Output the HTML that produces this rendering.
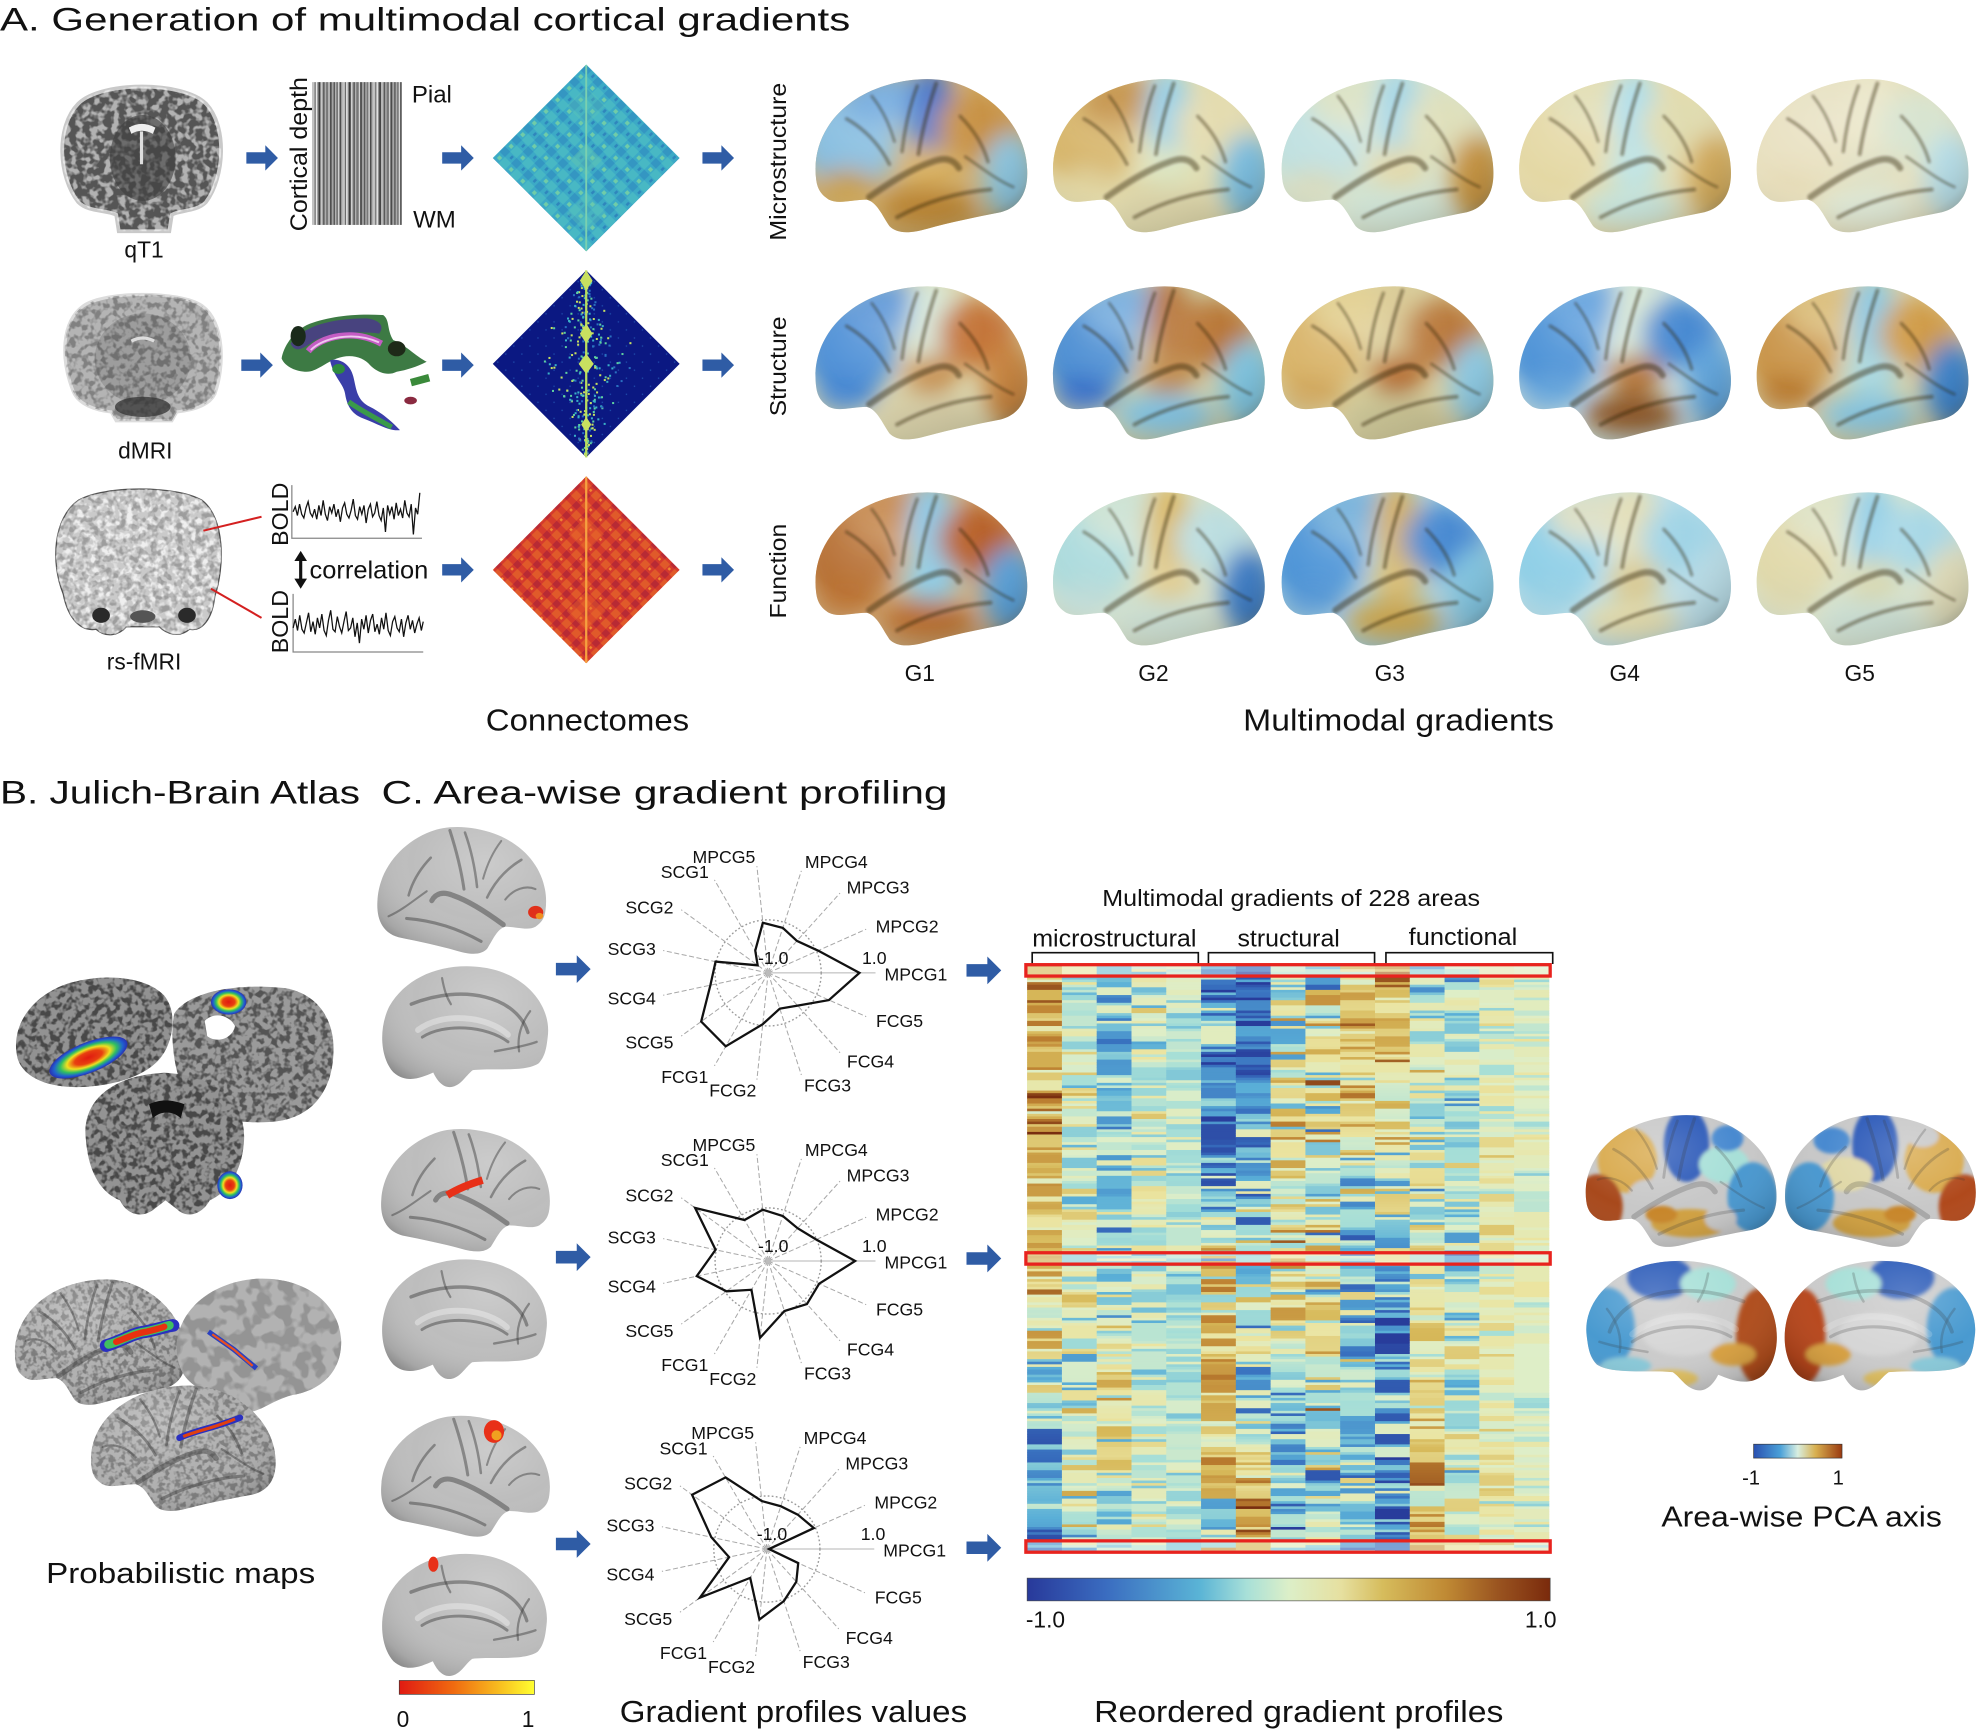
<!DOCTYPE html>
<html><head><meta charset="utf-8"><style>
html,body{margin:0;padding:0;background:#fff;}
svg{display:block;}
text{font-family:"Liberation Sans",Arial,sans-serif;fill:#111;}
.rl text{font-size:14px;text-anchor:middle;fill:#111;}
</style></head><body>
<svg xmlns="http://www.w3.org/2000/svg" xmlns:xlink="http://www.w3.org/1999/xlink" width="1981" height="1731" viewBox="0 0 1568 1370" preserveAspectRatio="none">
<defs>
<clipPath id="latC"><path d="M4,80 C0,50 18,20 55,7 C75,0 100,-2 118,5 C148,16 170,42 171,72 C172,90 165,102 150,106 C130,110 110,114 92,119 C78,123 68,123 62,117 C56,108 52,98 44,96 C32,96 22,100 14,96 C8,92 5,88 4,80 Z"/></clipPath>
<clipPath id="medC"><path d="M4,62 C0,35 25,8 62,3 C98,-2 132,10 148,36 C158,55 156,80 144,92 C132,102 118,96 108,92 C104,100 98,106 90,104 C82,102 78,94 72,90 C55,88 24,92 12,84 C6,78 5,70 4,62 Z"/></clipPath>
<filter id="b9" x="-20%" y="-20%" width="140%" height="140%"><feGaussianBlur stdDeviation="9"/></filter>
<filter id="b2" x="-10%" y="-10%" width="120%" height="120%"><feGaussianBlur stdDeviation="1.6"/></filter>
<filter id="b1" x="-10%" y="-10%" width="120%" height="120%"><feGaussianBlur stdDeviation="1.1"/></filter>
<filter id="txd" x="0" y="0" width="100%" height="100%"><feTurbulence type="fractalNoise" baseFrequency=".2" numOctaves="2" seed="5"/><feColorMatrix type="matrix" values="0 0 0 0 0 0 0 0 0 0 0 0 0 0 0 0 0 0 -5 2.8"/><feComposite in2="SourceAlpha" operator="in"/></filter>
<filter id="txw" x="0" y="0" width="100%" height="100%"><feTurbulence type="fractalNoise" baseFrequency=".18" numOctaves="2" seed="9"/><feColorMatrix type="matrix" values="0 0 0 0 1 0 0 0 0 1 0 0 0 0 1 0 0 0 -5 2.8"/><feComposite in2="SourceAlpha" operator="in"/></filter>
<filter id="txi" x="0" y="0" width="100%" height="100%"><feTurbulence type="fractalNoise" baseFrequency=".09" numOctaves="2" seed="3"/><feColorMatrix type="matrix" values="0 0 0 0 .3 0 0 0 0 .3 0 0 0 0 .3 0 0 0 -9 4.9"/><feComposite in2="SourceAlpha" operator="in"/></filter>
<radialGradient id="shd" cx=".38" cy=".3" r=".8"><stop offset="0" stop-color="#fff" stop-opacity=".22"/><stop offset=".5" stop-color="#fff" stop-opacity="0"/><stop offset=".85" stop-color="#000" stop-opacity=".12"/><stop offset="1" stop-color="#000" stop-opacity=".35"/></radialGradient>
<linearGradient id="hmg" x1="0" x2="1" y1="0" y2="0"><stop offset="0" stop-color="#28399a"/><stop offset=".15" stop-color="#3a6cc0"/><stop offset=".33" stop-color="#5ab4d6"/><stop offset=".42" stop-color="#a8e0d8"/><stop offset=".5" stop-color="#dcefc8"/><stop offset=".6" stop-color="#e6e0a0"/><stop offset=".68" stop-color="#d6bc5c"/><stop offset=".8" stop-color="#c08a34"/><stop offset=".9" stop-color="#9a5420"/><stop offset="1" stop-color="#7a2a0c"/></linearGradient>
<linearGradient id="pcag" x1="0" x2="1" y1="0" y2="0"><stop offset="0" stop-color="#2a50b0"/><stop offset=".3" stop-color="#4aa0d8"/><stop offset=".5" stop-color="#d8eee0"/><stop offset=".7" stop-color="#d8b050"/><stop offset="1" stop-color="#9a3a10"/></linearGradient>
<linearGradient id="ryg" x1="0" x2="1" y1="0" y2="0"><stop offset="0" stop-color="#e01a12"/><stop offset=".4" stop-color="#f06a10"/><stop offset=".75" stop-color="#f8c020"/><stop offset="1" stop-color="#ffff30"/></linearGradient>
<radialGradient id="rb"><stop offset="0" stop-color="#e01a10"/><stop offset=".35" stop-color="#e84010"/><stop offset=".55" stop-color="#f0e020"/><stop offset=".72" stop-color="#30c060"/><stop offset=".88" stop-color="#2060d0"/><stop offset="1" stop-color="#2a30b0"/></radialGradient>
<pattern id="bars" patternUnits="userSpaceOnUse" width="24" height="10">
<rect width="24" height="10" fill="#999"/><rect x="0" width="1.2" height="10" fill="#444"/><rect x="1.2" width="1" height="10" fill="#aaa"/><rect x="2.2" width="1.5" height="10" fill="#666"/><rect x="3.7" width="1" height="10" fill="#ddd"/><rect x="4.7" width="1.3" height="10" fill="#333"/><rect x="7" width="2" height="10" fill="#bbb"/><rect x="9" width="1" height="10" fill="#555"/><rect x="10" width="1.2" height="10" fill="#eee"/><rect x="11.2" width="1" height="10" fill="#777"/><rect x="12.2" width="1.5" height="10" fill="#222"/><rect x="13.7" width="1" height="10" fill="#ccc"/><rect x="15.7" width="1.3" height="10" fill="#444"/><rect x="17" width="1" height="10" fill="#aaa"/><rect x="18" width="2" height="10" fill="#666"/><rect x="20" width="1" height="10" fill="#ddd"/><rect x="21" width="1.5" height="10" fill="#333"/>
</pattern>
<pattern id="pTeal" patternUnits="userSpaceOnUse" width="13" height="13"><rect width="13" height="13" fill="#3caac6"/><rect width="6" height="6" fill="#3496c2"/><rect x="6" y="6" width="7" height="7" fill="#48b8c4"/><rect x="2" y="8" width="3" height="3" fill="#70cca8"/><rect x="9" y="1" width="2" height="3" fill="#2f86bc"/></pattern>
<pattern id="pRed" patternUnits="userSpaceOnUse" width="11" height="11"><rect width="11" height="11" fill="#d43a2c"/><rect width="5" height="5" fill="#b82a34"/><rect x="5" y="5" width="6" height="6" fill="#e05a2a"/><rect x="1" y="7" width="2" height="2" fill="#f08a30"/></pattern>
<pattern id="pNavy" patternUnits="userSpaceOnUse" width="9" height="9"><rect width="9" height="9" fill="#0b1882"/><rect x="3" y="3" width="1" height="1" fill="#2050b0"/></pattern>
<path id="arr" d="M0,-4.5H15V-10L25,0L15,10V4.5H0Z" fill="#2f5ca5"/>
<g id="sul" fill="none" stroke="#2a1a08" stroke-opacity=".4" stroke-linecap="round">
<path d="M46,94 C60,84 78,72 96,66 C106,62 113,64 117,71" stroke-width="5"/>
<path d="M99,4 C93,22 88,40 85,60" stroke-width="3"/>
<path d="M84,6 C78,22 74,40 72,58" stroke-width="2.5"/>
<path d="M68,110 C90,98 116,90 142,88" stroke-width="3"/>
<path d="M28,32 C42,40 54,52 62,68" stroke-width="2.5"/>
<path d="M48,14 C56,24 62,36 66,50" stroke-width="2"/>
<path d="M118,30 C128,40 136,52 140,66" stroke-width="2.5"/>
<path d="M122,62 C134,70 146,80 160,86" stroke-width="2"/>
</g>
<g id="sulG" fill="none" stroke="#3a3a3a" stroke-opacity=".45" stroke-linecap="round">
<path d="M46,94 C60,84 78,72 96,66 C106,62 113,64 117,71" stroke-width="5"/>
<path d="M99,4 C93,22 88,40 85,60" stroke-width="3"/>
<path d="M84,6 C78,22 74,40 72,58" stroke-width="2.5"/>
<path d="M68,110 C90,98 116,90 142,88" stroke-width="3"/>
<path d="M28,32 C42,40 54,52 62,68" stroke-width="2.5"/>
<path d="M48,14 C56,24 62,36 66,50" stroke-width="2"/>
<path d="M118,30 C128,40 136,52 140,66" stroke-width="2.5"/>
<path d="M122,62 C134,70 146,80 160,86" stroke-width="2"/>
<path d="M14,60 C24,56 36,60 44,70" stroke-width="2"/>
</g>
<g id="msul" fill="none" stroke="#3a3a3a" stroke-opacity=".45" stroke-linecap="round">
<path d="M22,58 C32,28 80,16 128,34" stroke-width="3"/>
<path d="M40,60 C58,44 100,40 122,56" stroke-width="5" stroke="#fff" stroke-opacity=".35"/>
<path d="M40,66 C60,52 98,50 118,62" stroke-width="2.5"/>
<path d="M20,40 C28,50 32,62 30,74" stroke-width="2"/>
<path d="M14,66 C26,70 40,72 52,74" stroke-width="2"/>
<path d="M100,12 C98,22 96,28 92,34" stroke-width="2"/>
</g>
<g id="ax" stroke="#a8a8a8" stroke-width=".8" fill="none">
<line x1="0" y1="0" x2="85" y2="0" stroke="#b5b5b5"/>
<g stroke-dasharray="4,2">
<line x1="0" y1="0" x2="77.6" y2="-34.6"/><line x1="0" y1="0" x2="56.9" y2="-63.2"/><line x1="0" y1="0" x2="26.3" y2="-80.8"/><line x1="0" y1="0" x2="-8.9" y2="-84.5"/><line x1="0" y1="0" x2="-42.5" y2="-73.6"/><line x1="0" y1="0" x2="-68.8" y2="-50"/><line x1="0" y1="0" x2="-83.1" y2="-17.7"/><line x1="0" y1="0" x2="-83.1" y2="17.7"/><line x1="0" y1="0" x2="-68.8" y2="50"/><line x1="0" y1="0" x2="-42.5" y2="73.6"/><line x1="0" y1="0" x2="-8.9" y2="84.5"/><line x1="0" y1="0" x2="26.3" y2="80.8"/><line x1="0" y1="0" x2="56.9" y2="63.2"/><line x1="0" y1="0" x2="77.6" y2="34.6"/>
</g>
<circle r="42" stroke="#9a9a9a" stroke-dasharray="1.4,1.8" stroke-width="1.1"/>
<circle r="2" fill="#bbb" stroke="none"/>
</g>
</defs>
<rect width="1568" height="1370" fill="#fff"/>

<!-- ===== Section A ===== -->
<text x="0" y="24" font-size="26" textLength="673" lengthAdjust="spacingAndGlyphs">A. Generation of multimodal cortical gradients</text>

<!-- qT1 -->
<path d="M62,160 C46,140 44,100 62,82 C80,64 145,64 163,82 C180,100 178,140 163,160 C155,168 142,166 136,170 L134,183 L94,183 L92,170 C84,166 70,168 62,160Z" fill="#555" stroke="#c9c9c9" stroke-width="3"/>
<path d="M62,160 C46,140 44,100 62,82 C80,64 145,64 163,82 C180,100 178,140 163,160 C155,168 142,166 136,170 L134,183 L94,183 L92,170 C84,166 70,168 62,160Z" filter="url(#txw)" opacity=".55"/>
<ellipse cx="113" cy="125" rx="26" ry="34" fill="#3e3e3e" opacity=".6"/>
<path d="M102,101 Q112,95 123,101 L121,106 Q112,101 104,106Z" fill="#eee"/>
<path d="M112,104 L112,130" stroke="#ddd" stroke-width="2.5"/>
<text x="114" y="204" font-size="18" text-anchor="middle">qT1</text>
<use href="#arr" x="195" y="125"/>
<text transform="translate(243,122) rotate(-90)" font-size="19" text-anchor="middle" textLength="122" lengthAdjust="spacingAndGlyphs">Cortical depth</text>
<rect x="247" y="65" width="71" height="113" fill="url(#bars)"/>
<rect x="247" y="65" width="71" height="113" fill="#fff" opacity=".12"/>
<text x="326" y="81" font-size="19">Pial</text>
<text x="327" y="180" font-size="19">WM</text>
<use href="#arr" x="350" y="125"/>
<g transform="translate(464,125) rotate(45)">
<rect x="-52.3" y="-52.3" width="104.6" height="104.6" fill="url(#pTeal)"/>
<rect x="-40" y="-40" width="22" height="22" fill="#5cc2b8" opacity=".35"/>
<rect x="-8" y="-8" width="18" height="18" fill="#64c6b0" opacity=".4"/>
<rect x="20" y="20" width="22" height="22" fill="#5cc2b8" opacity=".35"/>
<line x1="-52" y1="-52" x2="52" y2="52" stroke="#7ad0b0" stroke-width="1.5"/>
</g>
<use href="#arr" x="556" y="125"/>

<!-- dMRI -->
<path d="M58,310 C48,285 48,255 66,242 C84,230 142,230 160,242 C178,255 178,290 170,312 C165,322 150,325 140,326 L136,333 L92,333 L88,326 C76,325 62,320 58,310Z" fill="#b4b4b4" stroke="#dcdcdc" stroke-width="2.5"/>
<ellipse cx="113" cy="284" rx="38" ry="36" fill="#858585" opacity=".5"/>
<path d="M58,310 C48,285 48,255 66,242 C84,230 142,230 160,242 C178,255 178,290 170,312 C165,322 150,325 140,326 L136,333 L92,333 L88,326 C76,325 62,320 58,310Z" filter="url(#txd)" opacity=".28"/>
<ellipse cx="113" cy="322" rx="22" ry="8" fill="#333" opacity=".75"/>
<path d="M104,270 Q113,265 122,270" stroke="#ddd" stroke-width="2.5" fill="none"/>
<text x="115" y="363" font-size="18" text-anchor="middle">dMRI</text>
<use href="#arr" x="191" y="289"/>
<!-- tractography -->
<path d="M222.9,283.7 C224.3,274.4 232.2,262.6 242.7,257.3 C258.6,250.7 279.7,248 303.4,249.4 C308.7,253.3 306.1,261.2 311.3,269.2 C319.2,271.8 329.8,282.4 337.7,286.3 C329.8,290.3 321.9,292.9 314,294.2 C306.1,298.2 298.1,294.2 292.9,289 C287.6,282.4 277,279.7 266.5,283.7 C258.6,286.3 250.6,294.2 242.7,294.2 C234.8,294.2 225.6,290.3 222.9,283.7Z" fill="#3d7a44"/>
<path d="M230,272 C240,258 262,252 290,252 C300,253 305,258 300,264 C285,262 262,263 248,270 C240,276 234,280 230,272Z" fill="#4a3a8a" opacity=".85"/>
<path d="M244,278 C254,266 280,260 302,272" stroke="#c45cc4" stroke-width="5" fill="none"/>
<path d="M246,277 C256,267 280,262 300,271" stroke="#f0c8f0" stroke-width="1.5" fill="none"/>
<ellipse cx="236" cy="266" rx="6" ry="8" fill="#1a2a1a"/>
<ellipse cx="314" cy="276" rx="7" ry="6" fill="#1e2a18"/>
<path d="M261.2,285 C269.1,283.7 277,287.6 279.7,298.2 C282.3,308.8 282.3,316.7 292.9,322 C303.4,327.2 311.3,335.1 316.6,340.4 C308.7,341.7 298.1,335.1 287.6,331.2 C277,327.2 274.4,319.3 273.1,311.4 C271.7,303.5 263.8,298.2 261.2,285Z" fill="#3a3ea8"/>
<path d="M276,318 C284,324 296,330 310,338" stroke="#3a9a4a" stroke-width="4" fill="none"/>
<ellipse cx="268" cy="292" rx="5" ry="4" fill="#2e8a3e"/>
<rect x="325" y="298" width="15" height="6" fill="#3a8a3a" transform="rotate(-15 332 301)"/>
<ellipse cx="325" cy="317" rx="5" ry="3" fill="#8a2a40"/>
<use href="#arr" x="350" y="289"/>
<g transform="translate(464,288) rotate(45)">
<rect x="-52.3" y="-52.3" width="104.6" height="104.6" fill="url(#pNavy)"/>
</g>
<g id="sp2"></g>
<line x1="464" y1="214" x2="464" y2="362" stroke="#b8dc60" stroke-width="1.8"/>
<path d="M464,214 L469,222 L464,230 L459,222Z M464,256 L469,264 L464,272 L459,264Z M464,280 L470,288 L464,296 L458,288Z M464,330 L468,336 L464,342 L460,336Z" fill="#c8e060"/>
<use href="#arr" x="556" y="289"/>

<!-- rs-fMRI -->
<path d="M50,470 C40,445 42,410 62,396 C82,384 140,384 160,396 C178,410 178,448 170,472 C168,490 160,500 150,498 C142,505 132,502 126,496 L100,496 C94,503 84,505 76,498 C64,500 54,490 50,470Z" fill="#cacaca" stroke="#555" stroke-width="1"/>
<path d="M50,470 C40,445 42,410 62,396 C82,384 140,384 160,396 C178,410 178,448 170,472 C168,490 160,500 150,498 C142,505 132,502 126,496 L100,496 C94,503 84,505 76,498 C64,500 54,490 50,470Z" filter="url(#txw)" opacity=".7"/>
<path d="M50,470 C40,445 42,410 62,396 C82,384 140,384 160,396 C178,410 178,448 170,472 C168,490 160,500 150,498 C142,505 132,502 126,496 L100,496 C94,503 84,505 76,498 C64,500 54,490 50,470Z" filter="url(#txd)" opacity=".22"/>
<ellipse cx="80" cy="487" rx="7" ry="6" fill="#2a2a2a"/>
<ellipse cx="148" cy="487" rx="7" ry="6" fill="#2a2a2a"/>
<ellipse cx="113" cy="488" rx="10" ry="5" fill="#555"/>
<line x1="161" y1="420" x2="207" y2="409" stroke="#d42020" stroke-width="1.6"/>
<line x1="167" y1="466" x2="207" y2="489" stroke="#d42020" stroke-width="1.6"/>
<text x="114" y="530" font-size="18" text-anchor="middle">rs-fMRI</text>
<text transform="translate(228,407) rotate(-90)" font-size="18" text-anchor="middle" textLength="50" lengthAdjust="spacingAndGlyphs">BOLD</text>
<text transform="translate(228,492) rotate(-90)" font-size="18" text-anchor="middle" textLength="50" lengthAdjust="spacingAndGlyphs">BOLD</text>
<path d="M231,384 V426 H334" stroke="#888" stroke-width="1" fill="none"/>
<path d="M232,470 V516 H335" stroke="#888" stroke-width="1" fill="none"/>
<polyline fill="none" stroke="#111" stroke-width="1" points="232,405 233.7,401 235.4,408 237.1,399 238.8,407 240.5,410 242.2,402 243.9,397 245.6,406 247.3,409 249,403 250.7,411 252.4,400 254.1,408 255.8,396 257.5,407 259.2,412 260.9,401 262.6,406 264.3,399 266,409 267.7,403 269.4,413 271.1,402 272.8,398 274.5,407 276.2,410 277.9,404 279.6,395 281.3,408 283,411 284.7,401 286.4,407 288.1,400 289.8,414 291.5,403 293.2,399 294.9,409 296.6,406 298.3,397 300,408 301.7,412 303.4,402 305.1,421 306.8,400 308.5,407 310.2,401 311.9,411 313.6,398 315.3,408 317,403 318.7,410 320.4,396 322.1,406 323.8,409 325.5,399 327.2,423 328.9,402 330.6,407 332.3,390"/>
<polyline fill="none" stroke="#111" stroke-width="1" points="232,497 233.75,490 235.5,499 237.25,487 239,498 240.75,501 242.5,493 244.25,485 246,500 247.75,492 249.5,502 251.25,489 253,497 254.75,486 256.5,499 258.25,503 260,491 261.75,483 263.5,498 265.25,500 267,488 268.75,496 270.5,501 272.25,492 274,484 275.75,499 277.5,497 279.25,489 281,504 282.75,493 284.5,509 286.25,490 288,498 289.75,487 291.5,501 293.25,491 295,486 296.75,500 298.5,494 300.25,502 302,489 303.75,498 305.5,485 307.25,499 309,503 310.75,492 312.5,488 314.25,497 316,500 317.75,490 319.5,504 321.25,493 323,487 324.75,498 326.5,491 328.25,501 330,494 331.75,489 333.5,499 335,492"/>
<line x1="238" y1="441" x2="238" y2="461" stroke="#111" stroke-width="2.5"/>
<path d="M233,444 L238,436 L243,444Z M233,458 L238,466 L243,458Z" fill="#111"/>
<text x="245" y="458" font-size="20" textLength="94" lengthAdjust="spacingAndGlyphs">correlation</text>
<use href="#arr" x="350" y="451"/>
<g transform="translate(464,451) rotate(45)">
<rect x="-52.3" y="-52.3" width="104.6" height="104.6" fill="url(#pRed)"/>
<rect x="-30" y="-30" width="20" height="20" fill="#e8642a" opacity=".4"/>
<rect x="12" y="12" width="22" height="22" fill="#e8642a" opacity=".4"/>
<line x1="-52" y1="-52" x2="52" y2="52" stroke="#f6a040" stroke-width="1.8"/>
</g>
<use href="#arr" x="556" y="451"/>
<text x="465" y="578" font-size="24" text-anchor="middle" textLength="161" lengthAdjust="spacingAndGlyphs">Connectomes</text>

<!-- row labels -->
<text transform="translate(622,128) rotate(-90)" font-size="18" text-anchor="middle" textLength="125" lengthAdjust="spacingAndGlyphs">Microstructure</text>
<text transform="translate(622,290) rotate(-90)" font-size="18" text-anchor="middle" textLength="79" lengthAdjust="spacingAndGlyphs">Structure</text>
<text transform="translate(622,452) rotate(-90)" font-size="18" text-anchor="middle" textLength="75" lengthAdjust="spacingAndGlyphs">Function</text>

<!-- gradient brains -->
<g transform="translate(642,62)"><g clip-path="url(#latC)"><rect x="-5" y="-5" width="182" height="132" fill="#d0b070"/><g filter="url(#b9)"><ellipse cx="30" cy="50" rx="38" ry="40" fill="#86bde0"/><ellipse cx="60" cy="18" rx="35" ry="22" fill="#6aa6dc"/><ellipse cx="95" cy="28" rx="18" ry="36" fill="#3b6cc6"/><ellipse cx="132" cy="38" rx="32" ry="28" fill="#c89244"/><ellipse cx="158" cy="78" rx="22" ry="34" fill="#8cc6e0"/><ellipse cx="92" cy="102" rx="38" ry="16" fill="#b9822e"/><ellipse cx="28" cy="86" rx="24" ry="14" fill="#c9a04e"/><ellipse cx="95" cy="70" rx="22" ry="16" fill="#d8b060"/></g><rect x="-5" y="-5" width="182" height="132" fill="url(#shd)"/><use href="#sul" filter="url(#b1)"/></g></g>
<g transform="translate(830,62)"><g clip-path="url(#latC)"><rect x="-5" y="-5" width="182" height="132" fill="#e2dcae"/><g filter="url(#b9)"><ellipse cx="30" cy="50" rx="38" ry="40" fill="#d6b468"/><ellipse cx="60" cy="18" rx="35" ry="22" fill="#c08a3a"/><ellipse cx="95" cy="28" rx="18" ry="36" fill="#8fcde6"/><ellipse cx="132" cy="38" rx="32" ry="28" fill="#e4dcb0"/><ellipse cx="158" cy="78" rx="22" ry="34" fill="#7cc0e2"/><ellipse cx="92" cy="102" rx="38" ry="16" fill="#d8d0a4"/><ellipse cx="28" cy="86" rx="24" ry="14" fill="#e0d4a0"/><ellipse cx="95" cy="70" rx="22" ry="16" fill="#dce4c0"/></g><rect x="-5" y="-5" width="182" height="132" fill="url(#shd)"/><use href="#sul" filter="url(#b1)"/></g></g>
<g transform="translate(1011,62)"><g clip-path="url(#latC)"><rect x="-5" y="-5" width="182" height="132" fill="#d6e2cc"/><g filter="url(#b9)"><ellipse cx="30" cy="50" rx="38" ry="40" fill="#bfe0e0"/><ellipse cx="60" cy="18" rx="35" ry="22" fill="#d8e0c0"/><ellipse cx="95" cy="28" rx="18" ry="36" fill="#9ed4e6"/><ellipse cx="132" cy="38" rx="32" ry="28" fill="#dfe0bc"/><ellipse cx="158" cy="78" rx="22" ry="34" fill="#c89440"/><ellipse cx="92" cy="102" rx="38" ry="16" fill="#cde2d4"/><ellipse cx="28" cy="86" rx="24" ry="14" fill="#d8dcc0"/><ellipse cx="95" cy="70" rx="22" ry="16" fill="#e2d8a8"/></g><rect x="-5" y="-5" width="182" height="132" fill="url(#shd)"/><use href="#sul" filter="url(#b1)"/></g></g>
<g transform="translate(1199,62)"><g clip-path="url(#latC)"><rect x="-5" y="-5" width="182" height="132" fill="#e6dcae"/><g filter="url(#b9)"><ellipse cx="30" cy="50" rx="38" ry="40" fill="#e4d8a4"/><ellipse cx="60" cy="18" rx="35" ry="22" fill="#e0dcb0"/><ellipse cx="95" cy="28" rx="18" ry="36" fill="#a8dcea"/><ellipse cx="132" cy="38" rx="32" ry="28" fill="#e0dcb0"/><ellipse cx="158" cy="78" rx="22" ry="34" fill="#d4ac5c"/><ellipse cx="92" cy="102" rx="38" ry="16" fill="#c4e2da"/><ellipse cx="28" cy="86" rx="24" ry="14" fill="#e4d8a4"/><ellipse cx="95" cy="70" rx="22" ry="16" fill="#bfe4e4"/></g><rect x="-5" y="-5" width="182" height="132" fill="url(#shd)"/><use href="#sul" filter="url(#b1)"/></g></g>
<g transform="translate(1387,62)"><g clip-path="url(#latC)"><rect x="-5" y="-5" width="182" height="132" fill="#e6e0be"/><g filter="url(#b9)"><ellipse cx="30" cy="50" rx="38" ry="40" fill="#e8e0c0"/><ellipse cx="60" cy="18" rx="35" ry="22" fill="#e6e0c0"/><ellipse cx="95" cy="28" rx="18" ry="36" fill="#eae6c8"/><ellipse cx="132" cy="38" rx="32" ry="28" fill="#d8e4d0"/><ellipse cx="158" cy="78" rx="22" ry="34" fill="#b8e0ea"/><ellipse cx="92" cy="102" rx="38" ry="16" fill="#dce6d4"/><ellipse cx="28" cy="86" rx="24" ry="14" fill="#e6dcb8"/><ellipse cx="95" cy="70" rx="22" ry="16" fill="#e0e0c4"/></g><rect x="-5" y="-5" width="182" height="132" fill="url(#shd)"/><use href="#sul" filter="url(#b1)"/></g></g>

<g transform="translate(642,226)"><g clip-path="url(#latC)"><rect x="-5" y="-5" width="182" height="132" fill="#ddd8ae"/><g filter="url(#b9)"><ellipse cx="30" cy="50" rx="38" ry="40" fill="#4c8ed6"/><ellipse cx="60" cy="18" rx="35" ry="22" fill="#5592d6"/><ellipse cx="95" cy="28" rx="18" ry="36" fill="#d6e8d8"/><ellipse cx="132" cy="38" rx="32" ry="28" fill="#c4763a"/><ellipse cx="158" cy="78" rx="22" ry="34" fill="#c9843e"/><ellipse cx="92" cy="102" rx="38" ry="16" fill="#d2c9a2"/><ellipse cx="28" cy="86" rx="24" ry="14" fill="#4a88d2"/><ellipse cx="95" cy="70" rx="22" ry="16" fill="#c69050"/></g><rect x="-5" y="-5" width="182" height="132" fill="url(#shd)"/><use href="#sul" filter="url(#b1)"/></g></g>
<g transform="translate(830,226)"><g clip-path="url(#latC)"><rect x="-5" y="-5" width="182" height="132" fill="#cfcfa8"/><g filter="url(#b9)"><ellipse cx="30" cy="50" rx="38" ry="40" fill="#4a8cd2"/><ellipse cx="60" cy="18" rx="35" ry="22" fill="#6ea8dc"/><ellipse cx="95" cy="28" rx="18" ry="36" fill="#b47030"/><ellipse cx="132" cy="38" rx="32" ry="28" fill="#b97838"/><ellipse cx="158" cy="78" rx="22" ry="34" fill="#7fc6e2"/><ellipse cx="92" cy="102" rx="38" ry="16" fill="#7cbfe0"/><ellipse cx="28" cy="86" rx="24" ry="14" fill="#3c72c8"/><ellipse cx="95" cy="70" rx="22" ry="16" fill="#c08a48"/></g><rect x="-5" y="-5" width="182" height="132" fill="url(#shd)"/><use href="#sul" filter="url(#b1)"/></g></g>
<g transform="translate(1011,226)"><g clip-path="url(#latC)"><rect x="-5" y="-5" width="182" height="132" fill="#d8d0a0"/><g filter="url(#b9)"><ellipse cx="30" cy="50" rx="38" ry="40" fill="#d8b266"/><ellipse cx="60" cy="18" rx="35" ry="22" fill="#e0cc88"/><ellipse cx="95" cy="28" rx="18" ry="36" fill="#d8c890"/><ellipse cx="132" cy="38" rx="32" ry="28" fill="#ba7a3c"/><ellipse cx="158" cy="78" rx="22" ry="34" fill="#8ecce6"/><ellipse cx="92" cy="102" rx="38" ry="16" fill="#c6c090"/><ellipse cx="28" cy="86" rx="24" ry="14" fill="#d0a860"/><ellipse cx="95" cy="70" rx="22" ry="16" fill="#b46a2a"/></g><rect x="-5" y="-5" width="182" height="132" fill="url(#shd)"/><use href="#sul" filter="url(#b1)"/></g></g>
<g transform="translate(1199,226)"><g clip-path="url(#latC)"><rect x="-5" y="-5" width="182" height="132" fill="#cce0dc"/><g filter="url(#b9)"><ellipse cx="30" cy="50" rx="38" ry="40" fill="#4a90d6"/><ellipse cx="60" cy="18" rx="35" ry="22" fill="#5a9cdc"/><ellipse cx="95" cy="28" rx="18" ry="36" fill="#d8e8d4"/><ellipse cx="132" cy="38" rx="32" ry="28" fill="#4a8ad2"/><ellipse cx="158" cy="78" rx="22" ry="34" fill="#60a6de"/><ellipse cx="92" cy="102" rx="38" ry="16" fill="#8a5222"/><ellipse cx="28" cy="86" rx="24" ry="14" fill="#6aa8dc"/><ellipse cx="95" cy="70" rx="22" ry="16" fill="#b47438"/></g><rect x="-5" y="-5" width="182" height="132" fill="url(#shd)"/><use href="#sul" filter="url(#b1)"/></g></g>
<g transform="translate(1387,226)"><g clip-path="url(#latC)"><rect x="-5" y="-5" width="182" height="132" fill="#d8d0a4"/><g filter="url(#b9)"><ellipse cx="30" cy="50" rx="38" ry="40" fill="#c89244"/><ellipse cx="60" cy="18" rx="35" ry="22" fill="#d8b870"/><ellipse cx="95" cy="28" rx="18" ry="36" fill="#82c6e2"/><ellipse cx="132" cy="38" rx="32" ry="28" fill="#d09c4a"/><ellipse cx="158" cy="78" rx="22" ry="34" fill="#3e84cc"/><ellipse cx="92" cy="102" rx="38" ry="16" fill="#82c2de"/><ellipse cx="28" cy="86" rx="24" ry="14" fill="#b87a32"/><ellipse cx="95" cy="70" rx="22" ry="16" fill="#a8d8e0"/></g><rect x="-5" y="-5" width="182" height="132" fill="url(#shd)"/><use href="#sul" filter="url(#b1)"/></g></g>

<g transform="translate(642,389)"><g clip-path="url(#latC)"><rect x="-5" y="-5" width="182" height="132" fill="#d0b080"/><g filter="url(#b9)"><ellipse cx="30" cy="50" rx="38" ry="40" fill="#b66e30"/><ellipse cx="60" cy="18" rx="35" ry="22" fill="#c28244"/><ellipse cx="95" cy="28" rx="18" ry="36" fill="#82c6e6"/><ellipse cx="132" cy="38" rx="32" ry="28" fill="#b8622c"/><ellipse cx="158" cy="78" rx="22" ry="34" fill="#5aa2da"/><ellipse cx="92" cy="102" rx="38" ry="16" fill="#b86c2c"/><ellipse cx="28" cy="86" rx="24" ry="14" fill="#bc7434"/><ellipse cx="95" cy="70" rx="22" ry="16" fill="#8ccce6"/></g><rect x="-5" y="-5" width="182" height="132" fill="url(#shd)"/><use href="#sul" filter="url(#b1)"/></g></g>
<g transform="translate(830,389)"><g clip-path="url(#latC)"><rect x="-5" y="-5" width="182" height="132" fill="#d6e2cc"/><g filter="url(#b9)"><ellipse cx="30" cy="50" rx="38" ry="40" fill="#aadadc"/><ellipse cx="60" cy="18" rx="35" ry="22" fill="#c8e0d0"/><ellipse cx="95" cy="28" rx="18" ry="36" fill="#d8b252"/><ellipse cx="132" cy="38" rx="32" ry="28" fill="#bcdee0"/><ellipse cx="158" cy="78" rx="22" ry="34" fill="#3d7ec8"/><ellipse cx="92" cy="102" rx="38" ry="16" fill="#c8dcd0"/><ellipse cx="28" cy="86" rx="24" ry="14" fill="#c0dcd8"/><ellipse cx="95" cy="70" rx="22" ry="16" fill="#e0cc90"/></g><rect x="-5" y="-5" width="182" height="132" fill="url(#shd)"/><use href="#sul" filter="url(#b1)"/></g></g>
<g transform="translate(1011,389)"><g clip-path="url(#latC)"><rect x="-5" y="-5" width="182" height="132" fill="#a8d0dc"/><g filter="url(#b9)"><ellipse cx="30" cy="50" rx="38" ry="40" fill="#4a92d6"/><ellipse cx="60" cy="18" rx="35" ry="22" fill="#6aaad8"/><ellipse cx="95" cy="28" rx="18" ry="36" fill="#d2aa52"/><ellipse cx="132" cy="38" rx="32" ry="28" fill="#4a8ad2"/><ellipse cx="158" cy="78" rx="22" ry="34" fill="#82c6e2"/><ellipse cx="92" cy="102" rx="38" ry="16" fill="#c8a24a"/><ellipse cx="28" cy="86" rx="24" ry="14" fill="#5a9ad6"/><ellipse cx="95" cy="70" rx="22" ry="16" fill="#d8bc72"/></g><rect x="-5" y="-5" width="182" height="132" fill="url(#shd)"/><use href="#sul" filter="url(#b1)"/></g></g>
<g transform="translate(1199,389)"><g clip-path="url(#latC)"><rect x="-5" y="-5" width="182" height="132" fill="#c0e0e8"/><g filter="url(#b9)"><ellipse cx="30" cy="50" rx="38" ry="40" fill="#8ccee6"/><ellipse cx="60" cy="18" rx="35" ry="22" fill="#d8dcc0"/><ellipse cx="95" cy="28" rx="18" ry="36" fill="#e2dcb0"/><ellipse cx="132" cy="38" rx="32" ry="28" fill="#a0d4e6"/><ellipse cx="158" cy="78" rx="22" ry="34" fill="#b8dce6"/><ellipse cx="92" cy="102" rx="38" ry="16" fill="#e0d8a8"/><ellipse cx="28" cy="86" rx="24" ry="14" fill="#9cd2e4"/><ellipse cx="95" cy="70" rx="22" ry="16" fill="#d8c890"/></g><rect x="-5" y="-5" width="182" height="132" fill="url(#shd)"/><use href="#sul" filter="url(#b1)"/></g></g>
<g transform="translate(1387,389)"><g clip-path="url(#latC)"><rect x="-5" y="-5" width="182" height="132" fill="#d8e4d0"/><g filter="url(#b9)"><ellipse cx="30" cy="50" rx="38" ry="40" fill="#e0d8a8"/><ellipse cx="60" cy="18" rx="35" ry="22" fill="#dce0c0"/><ellipse cx="95" cy="28" rx="18" ry="36" fill="#8ccce6"/><ellipse cx="132" cy="38" rx="32" ry="28" fill="#a8d8e6"/><ellipse cx="158" cy="78" rx="22" ry="34" fill="#e0dcb8"/><ellipse cx="92" cy="102" rx="38" ry="16" fill="#c8dcd0"/><ellipse cx="28" cy="86" rx="24" ry="14" fill="#dcd8b0"/><ellipse cx="95" cy="70" rx="22" ry="16" fill="#d8d8b0"/></g><rect x="-5" y="-5" width="182" height="132" fill="url(#shd)"/><use href="#sul" filter="url(#b1)"/></g></g>

<g font-size="18" text-anchor="middle">
<text x="728" y="539">G1</text><text x="913" y="539">G2</text><text x="1100" y="539">G3</text><text x="1286" y="539">G4</text><text x="1472" y="539">G5</text>
</g>
<text x="1107" y="578" font-size="24" text-anchor="middle" textLength="246" lengthAdjust="spacingAndGlyphs">Multimodal gradients</text>

<!-- ===== Section B ===== -->
<text x="0" y="636" font-size="26" textLength="285" lengthAdjust="spacingAndGlyphs">B. Julich-Brain Atlas</text>
<path d="M138,802 C150,784 190,778 225,782 C250,786 264,805 264,830 C264,860 250,882 222,887 C195,891 162,886 148,868 C138,852 134,820 138,802Z" fill="#9a9a9a"/>
<path d="M138,802 C150,784 190,778 225,782 C250,786 264,805 264,830 C264,860 250,882 222,887 C195,891 162,886 148,868 C138,852 134,820 138,802Z" filter="url(#txd)" opacity=".45"/>
<path d="M162,808 C170,800 182,804 186,812 C184,822 172,826 164,820Z" fill="#fff"/>
<path d="M14,838 C8,815 22,790 52,779 C80,770 115,772 130,788 C140,800 138,822 128,836 C118,850 95,858 70,860 C45,862 20,856 14,838Z" fill="#929292"/>
<path d="M14,838 C8,815 22,790 52,779 C80,770 115,772 130,788 C140,800 138,822 128,836 C118,850 95,858 70,860 C45,862 20,856 14,838Z" filter="url(#txd)" opacity=".5"/>
<ellipse cx="181" cy="793" rx="14" ry="10" fill="url(#rb)"/>
<ellipse cx="70" cy="837" rx="33" ry="12" fill="url(#rb)" transform="rotate(-22 70 837)"/>
<path d="M68,902 C64,872 88,851 130,849 C172,851 196,872 193,905 C191,928 180,944 166,950 C160,961 148,965 140,957 L131,950 L122,957 C112,965 100,961 95,950 C80,944 70,928 68,902Z" fill="#939393"/>
<path d="M68,902 C64,872 88,851 130,849 C172,851 196,872 193,905 C191,928 180,944 166,950 C160,961 148,965 140,957 L131,950 L122,957 C112,965 100,961 95,950 C80,944 70,928 68,902Z" filter="url(#txd)" opacity=".5"/>
<path d="M118,874 C126,870 136,870 146,874 L143,885 C137,879 127,879 121,885Z" fill="#111"/>
<ellipse cx="182" cy="938" rx="10" ry="11" fill="url(#rb)"/>

<g transform="translate(9,1012) scale(0.808,0.82)"><g clip-path="url(#latC)"><rect x="-5" y="-5" width="182" height="132" fill="#b0b0b0"/><rect x="-5" y="-5" width="182" height="132" filter="url(#txd)" opacity=".3"/><rect x="-5" y="-5" width="182" height="132" fill="url(#shd)"/><use href="#sulG"/></g></g>
<path d="M140,1070 C138,1040 165,1014 205,1012 C240,1011 268,1030 270,1060 C271,1085 255,1100 232,1104 C215,1108 205,1119 192,1118 C178,1117 172,1106 160,1100 C148,1094 141,1085 140,1070Z" fill="#b2b2b2"/>
<path d="M140,1070 C138,1040 165,1014 205,1012 C240,1011 268,1030 270,1060 C271,1085 255,1100 232,1104 C215,1108 205,1119 192,1118 C178,1117 172,1106 160,1100 C148,1094 141,1085 140,1070Z" filter="url(#txi)"/>
<path d="M84,1065 C95,1062 105,1055 115,1054 C125,1052 130,1050 137,1049" stroke="#2a30c0" stroke-width="10" fill="none" stroke-linecap="round"/>
<path d="M86,1064 C95,1062 105,1055 115,1054 C125,1052 130,1050 134,1049" stroke="#40c060" stroke-width="7" fill="none" stroke-linecap="round"/>
<path d="M92,1062 C100,1059 108,1055 116,1054 C124,1052 128,1051 130,1050" stroke="#e83010" stroke-width="5" fill="none" stroke-linecap="round"/>
<path d="M165,1054 L185,1068 L203,1083" stroke="#2a40c0" stroke-width="4" fill="none"/>
<path d="M168,1056 L185,1068 L200,1081" stroke="#e85020" stroke-width="1.8" fill="none"/>
<g transform="translate(69,1096) scale(0.872,0.82)"><g clip-path="url(#latC)"><rect x="-5" y="-5" width="182" height="132" fill="#b0b0b0"/><rect x="-5" y="-5" width="182" height="132" filter="url(#txd)" opacity=".28"/><rect x="-5" y="-5" width="182" height="132" fill="url(#shd)"/><use href="#sulG"/></g></g>
<path d="M142,1138 C155,1132 170,1130 190,1122" stroke="#2a30c0" stroke-width="5" fill="none" stroke-linecap="round"/>
<path d="M145,1137 C157,1132 170,1130 186,1123" stroke="#e04010" stroke-width="2.5" fill="none"/>
<text x="143" y="1253" font-size="23" text-anchor="middle" textLength="213" lengthAdjust="spacingAndGlyphs">Probabilistic maps</text>

<!-- ===== Section C ===== -->
<text x="302" y="636" font-size="26" textLength="448" lengthAdjust="spacingAndGlyphs">C. Area-wise gradient profiling</text>

<!-- small gray brains -->
<g transform="translate(435,654) scale(-0.797,0.828)"><g clip-path="url(#latC)"><rect x="-5" y="-5" width="182" height="132" fill="#bdbdbd"/><rect x="-5" y="-5" width="182" height="132" fill="url(#shd)"/><use href="#sulG"/></g></g>
<ellipse cx="424" cy="722" rx="6" ry="5" fill="#e0301a"/><ellipse cx="427" cy="725" rx="3" ry="2.5" fill="#f09020"/>
<g transform="translate(437,763) scale(-0.871,0.933)"><g clip-path="url(#medC)"><rect x="-5" y="-5" width="165" height="115" fill="#bdbdbd"/><rect x="-5" y="-5" width="165" height="115" fill="url(#shd)"/><use href="#msul"/></g></g>
<g transform="translate(438,893) scale(-0.797,0.8)"><g clip-path="url(#latC)"><rect x="-5" y="-5" width="182" height="132" fill="#bdbdbd"/><rect x="-5" y="-5" width="182" height="132" fill="url(#shd)"/><use href="#sulG"/></g></g>
<path d="M354,946 C362,941 372,937 382,934" stroke="#e83018" stroke-width="6" fill="none"/>
<g transform="translate(436,995) scale(-0.865,0.924)"><g clip-path="url(#medC)"><rect x="-5" y="-5" width="165" height="115" fill="#bdbdbd"/><rect x="-5" y="-5" width="165" height="115" fill="url(#shd)"/><use href="#msul"/></g></g>
<g transform="translate(438,1120) scale(-0.797,0.79)"><g clip-path="url(#latC)"><rect x="-5" y="-5" width="182" height="132" fill="#bdbdbd"/><rect x="-5" y="-5" width="182" height="132" fill="url(#shd)"/><use href="#sulG"/></g></g>
<ellipse cx="391" cy="1133" rx="8" ry="9" fill="#e83018"/><ellipse cx="393" cy="1136" rx="4" ry="4" fill="#f0a020"/>
<g transform="translate(436,1228) scale(-0.865,0.943)"><g clip-path="url(#medC)"><rect x="-5" y="-5" width="165" height="115" fill="#bdbdbd"/><rect x="-5" y="-5" width="165" height="115" fill="url(#shd)"/><use href="#msul"/></g></g>
<ellipse cx="343" cy="1238" rx="4" ry="6" fill="#e83018"/>
<rect x="316" y="1330" width="107" height="11" fill="url(#ryg)" stroke="#333" stroke-width=".5"/>
<text x="319" y="1367" font-size="18" text-anchor="middle">0</text>
<text x="418" y="1367" font-size="18" text-anchor="middle">1</text>

<!-- arrows C -->
<use href="#arr" transform="translate(440,767) scale(1.1)"/>
<use href="#arr" transform="translate(440,995) scale(1.1)"/>
<use href="#arr" transform="translate(440,1222) scale(1.1)"/>
<use href="#arr" transform="translate(765,768) scale(1.1)"/>
<use href="#arr" transform="translate(765,996) scale(1.1)"/>
<use href="#arr" transform="translate(765,1225) scale(1.1)"/>

<!-- radars -->
<g transform="translate(608,770)" class="rl">
<use href="#ax"/>
<polygon points="72.3,0 39.6,-17.6 22.8,-25.3 11.6,-35.6 -4.2,-39.7 -10.2,-17.7 -8.3,-6 -41.6,-8.9 -45.7,9.7 -53,38.5 -33.6,58.1 -4.3,40.6 9.2,28.3 23.3,25.9 48.1,21.5" fill="none" stroke="#111" stroke-width="1.8"/>
<text x="-35" y="-87">MPCG5</text><text x="-66" y="-75">SCG1</text><text x="54" y="-83">MPCG4</text><text x="87" y="-63">MPCG3</text><text x="110" y="-32">MPCG2</text><text x="84" y="-7">1.0</text><text x="117" y="6">MPCG1</text><text x="104" y="43">FCG5</text><text x="81" y="75">FCG4</text><text x="47" y="94">FCG3</text><text x="-28" y="98">FCG2</text><text x="-66" y="87">FCG1</text><text x="-94" y="60">SCG5</text><text x="-108" y="25">SCG4</text><text x="-108" y="-14">SCG3</text><text x="-94" y="-47">SCG2</text><text x="4" y="-7">-1.0</text>
</g>
<g transform="translate(608,998)" class="rl">
<use href="#ax"/>
<polygon points="68.9,0 38,-17 23.3,-25.9 11.6,-35.6 -4.3,-40.6 -18.7,-32.4 -57.8,-42 -41.6,-8.9 -56.5,12 -33,24 -13.2,22.8 -6.4,60.8 12.9,39.6 30.7,34.1 40.4,18" fill="none" stroke="#111" stroke-width="1.8"/>
<text x="-35" y="-87">MPCG5</text><text x="-66" y="-75">SCG1</text><text x="54" y="-83">MPCG4</text><text x="87" y="-63">MPCG3</text><text x="110" y="-32">MPCG2</text><text x="84" y="-7">1.0</text><text x="117" y="6">MPCG1</text><text x="104" y="43">FCG5</text><text x="81" y="75">FCG4</text><text x="47" y="94">FCG3</text><text x="-28" y="98">FCG2</text><text x="-66" y="87">FCG1</text><text x="-94" y="60">SCG5</text><text x="-108" y="25">SCG4</text><text x="-108" y="-14">SCG3</text><text x="-94" y="-47">SCG2</text><text x="4" y="-7">-1.0</text>
</g>
<g transform="translate(607,1226)" class="rl">
<use href="#ax"/>
<polygon points="1.7,0 37.2,-16.6 24.5,-27.2 11,-33.9 -4,-38 -32.7,-56.7 -59.2,-43 -44,-9.4 -29.9,6.4 -53,38.5 -13.2,22.8 -5.9,55.8 13.4,41.2 23.3,25.9 24.8,11.1" fill="none" stroke="#111" stroke-width="1.8"/>
<text x="-35" y="-87">MPCG5</text><text x="-66" y="-75">SCG1</text><text x="54" y="-83">MPCG4</text><text x="87" y="-63">MPCG3</text><text x="110" y="-32">MPCG2</text><text x="84" y="-7">1.0</text><text x="117" y="6">MPCG1</text><text x="104" y="43">FCG5</text><text x="81" y="75">FCG4</text><text x="47" y="94">FCG3</text><text x="-28" y="98">FCG2</text><text x="-66" y="87">FCG1</text><text x="-94" y="60">SCG5</text><text x="-108" y="25">SCG4</text><text x="-108" y="-14">SCG3</text><text x="-94" y="-47">SCG2</text><text x="4" y="-7">-1.0</text>
</g>
<text x="628" y="1363" font-size="24" text-anchor="middle" textLength="275" lengthAdjust="spacingAndGlyphs">Gradient profiles values</text>

<!-- heatmap -->
<text x="1022" y="717" font-size="18" text-anchor="middle" textLength="299" lengthAdjust="spacingAndGlyphs">Multimodal gradients of 228 areas</text>
<text x="882" y="749" font-size="19" text-anchor="middle" textLength="130" lengthAdjust="spacingAndGlyphs">microstructural</text>
<text x="1020" y="749" font-size="19" text-anchor="middle" textLength="81" lengthAdjust="spacingAndGlyphs">structural</text>
<text x="1158" y="748" font-size="19" text-anchor="middle" textLength="86" lengthAdjust="spacingAndGlyphs">functional</text>
<path d="M817,763 V754 H948.5 V763 M956.5,763 V754 H1088 V763 M1097,763 V754 H1229 V763" stroke="#111" stroke-width="1.3" fill="none"/>
<rect x="813" y="763" width="413" height="466" fill="#d8e8c8"/>
<g id="hm"></g>
<g fill="#fff" fill-opacity=".35" stroke="#e8231e" stroke-width="2.6">
<rect x="812" y="763.5" width="415" height="9"/>
<rect x="812" y="991.5" width="415" height="9"/>
<rect x="812" y="1219.5" width="415" height="9"/>
</g>
<rect x="813" y="1249" width="414" height="18" fill="url(#hmg)" stroke="#444" stroke-width=".5"/>
<text x="812" y="1288" font-size="18">-1.0</text>
<text x="1232" y="1288" font-size="18" text-anchor="end">1.0</text>
<text x="1028" y="1363" font-size="24" text-anchor="middle" textLength="324" lengthAdjust="spacingAndGlyphs">Reordered gradient profiles</text>

<!-- PCA brains -->
<g transform="translate(1252,882) scale(0.901,0.861)"><g clip-path="url(#latC)"><rect x="-5" y="-5" width="182" height="132" fill="#c8c8c8"/><g filter="url(#b2)">
<ellipse cx="40" cy="42" rx="26" ry="30" fill="#d8a848"/><ellipse cx="14" cy="85" rx="22" ry="30" fill="#a84a1a"/><ellipse cx="58" cy="72" rx="16" ry="12" fill="#c8c8c8"/><ellipse cx="92" cy="28" rx="20" ry="34" fill="#2a58b8"/><ellipse cx="125" cy="46" rx="22" ry="17" fill="#a8e0d8"/><ellipse cx="150" cy="76" rx="22" ry="32" fill="#4a98d0"/><ellipse cx="128" cy="22" rx="14" ry="12" fill="#4a8ad0"/><ellipse cx="95" cy="100" rx="34" ry="13" fill="#d0a040"/><ellipse cx="122" cy="96" rx="14" ry="11" fill="#c8c8c8"/><ellipse cx="70" cy="92" rx="14" ry="8" fill="#c8862c"/>
</g><rect x="-5" y="-5" width="182" height="132" fill="url(#shd)"/><use href="#sulG" opacity=".5"/></g></g>
<g transform="translate(1567,882) scale(-0.901,0.861)"><g clip-path="url(#latC)"><rect x="-5" y="-5" width="182" height="132" fill="#c8c8c8"/><g filter="url(#b2)">
<ellipse cx="40" cy="42" rx="26" ry="30" fill="#d8a848"/><ellipse cx="14" cy="85" rx="22" ry="30" fill="#b04a1a"/><ellipse cx="50" cy="20" rx="14" ry="10" fill="#c8c8c8"/><ellipse cx="92" cy="28" rx="20" ry="34" fill="#2a58b8"/><ellipse cx="118" cy="55" rx="24" ry="16" fill="#e0d8a8"/><ellipse cx="150" cy="76" rx="22" ry="32" fill="#4a98d0"/><ellipse cx="130" cy="24" rx="16" ry="12" fill="#4a8ad0"/><ellipse cx="95" cy="100" rx="34" ry="13" fill="#d0a040"/><ellipse cx="70" cy="92" rx="14" ry="8" fill="#c8862c"/>
</g><rect x="-5" y="-5" width="182" height="132" fill="url(#shd)"/><use href="#sulG" opacity=".5"/></g></g>
<g transform="translate(1252,996)"><g clip-path="url(#medC)"><rect x="-5" y="-5" width="165" height="115" fill="#cbcbcb"/><g filter="url(#b2)">
<ellipse cx="20" cy="55" rx="22" ry="32" fill="#4a9ad0"/><ellipse cx="62" cy="15" rx="26" ry="17" fill="#2a5ab8"/><ellipse cx="100" cy="20" rx="22" ry="13" fill="#a8e0d8"/><ellipse cx="140" cy="62" rx="18" ry="38" fill="#b04e1a"/><ellipse cx="120" cy="76" rx="18" ry="9" fill="#d8a040"/><ellipse cx="80" cy="60" rx="32" ry="17" fill="#d6d6d6"/><ellipse cx="70" cy="95" rx="22" ry="7" fill="#e0c060"/><ellipse cx="35" cy="85" rx="20" ry="7" fill="#88c8d8"/>
</g><rect x="-5" y="-5" width="165" height="115" fill="url(#shd)"/><use href="#msul" opacity=".5"/></g></g>
<g transform="translate(1567,996) scale(-1,1)"><g clip-path="url(#medC)"><rect x="-5" y="-5" width="165" height="115" fill="#cbcbcb"/><g filter="url(#b2)">
<ellipse cx="20" cy="55" rx="22" ry="32" fill="#4a9ad0"/><ellipse cx="62" cy="15" rx="26" ry="17" fill="#2a5ab8"/><ellipse cx="100" cy="20" rx="22" ry="13" fill="#a8e0d8"/><ellipse cx="140" cy="62" rx="18" ry="38" fill="#b8461a"/><ellipse cx="120" cy="76" rx="18" ry="9" fill="#d8a040"/><ellipse cx="80" cy="60" rx="32" ry="17" fill="#d6d6d6"/><ellipse cx="70" cy="95" rx="22" ry="7" fill="#e0c060"/><ellipse cx="35" cy="85" rx="20" ry="7" fill="#88c8d8"/>
</g><rect x="-5" y="-5" width="165" height="115" fill="url(#shd)"/><use href="#msul" opacity=".5"/></g></g>
<rect x="1388" y="1143" width="70" height="11" fill="url(#pcag)" stroke="#333" stroke-width=".5"/>
<text x="1386" y="1175" font-size="16" text-anchor="middle">-1</text>
<text x="1455" y="1175" font-size="16" text-anchor="middle">1</text>
<text x="1426" y="1208" font-size="23" text-anchor="middle" textLength="222" lengthAdjust="spacingAndGlyphs">Area-wise PCA axis</text>
</svg>
<script>
(function(){
var NS="http://www.w3.org/2000/svg";
var s=12345;function R(){s=(s*16807)%2147483647;return s/2147483647;}
function G(){return (R()+R()+R()-1.5)*2;}
var st=[[-1,40,60,155],[-0.7,55,110,190],[-0.4,90,175,215],[-0.15,165,222,215],[0,222,238,200],[0.2,235,228,160],[0.45,215,185,90],[0.7,190,130,50],[1,120,45,15]];
function cm(v){v=Math.max(-1,Math.min(1,v));for(var i=1;i<st.length;i++){if(v<=st[i][0]){var a=st[i-1],b=st[i],f=(v-a[0])/(b[0]-a[0]);return "rgb("+Math.round(a[1]+f*(b[1]-a[1]))+","+Math.round(a[2]+f*(b[2]-a[2]))+","+Math.round(a[3]+f*(b[3]-a[3]))+")";}}return "rgb(120,45,15)";}
function ip(k,t){for(var i=1;i<k.length;i++){if(t<=k[i][0]){var a=k[i-1],b=k[i];return a[1]+(t-a[0])/(b[0]-a[0])*(b[1]-a[1]);}}return k[k.length-1][1];}
var P=[
[[0,.5],[.45,.45],[.6,.15],[.75,-.1],[.85,-.4],[1,-.8]],
[[0,.05],[.5,.05],[1,-.1]],
[[0,-.3],[.5,-.2],[.7,.15],[1,-.15]],
[[0,-.05],[1,0]],
[[0,-.1],[1,-.15]],
[[0,-.6],[.35,-.6],[.5,.05],[.7,.35],[1,.1]],
[[0,-.75],[.25,-.6],[.4,-.2],[.6,-.1],[.8,-.2],[.9,.6],[1,.7]],
[[0,-.05],[.3,.2],[.6,.1],[.8,-.4],[1,-.2]],
[[0,.05],[.4,0],[.6,.15],[1,-.1]],
[[0,.5],[.2,.3],[.4,-.1],[.7,-.3],[1,-.2]],
[[0,.5],[.2,.3],[.4,0],[.55,-.4],[.8,-.55],[1,-.45]],
[[0,-.15],[.5,.05],[.75,.2],[.9,.45],[1,.4]],
[[0,-.2],[.5,-.15],[1,.1]],
[[0,.1],[.5,.1],[1,.15]],
[[0,0],[1,0]]];
var S=[.3,.25,.25,.2,.12,.35,.3,.3,.35,.3,.3,.25,.25,.15,.12];
var g=document.getElementById("hm"),x0=813,cw=413/15,y0=763,N=228,rh=(1229-763)/N;
for(var c=0;c<15;c++){var n=0;for(var r=0;r<N;r++){if(R()<0.6)n=G()*S[c]*0.9;var v=ip(P[c],r/(N-1))+n;var e=document.createElementNS(NS,"rect");e.setAttribute("x",(x0+c*cw).toFixed(2));e.setAttribute("y",(y0+r*rh).toFixed(2));e.setAttribute("width",(cw+0.3).toFixed(2));e.setAttribute("height",(rh+0.4).toFixed(2));e.setAttribute("fill",cm(v));g.appendChild(e);}}
var d=document.getElementById("sp2"),cols=["#3ab0c8","#5fd0a0","#c8e060","#2a70c0"];
for(var i=0;i<320;i++){var y=216+R()*144;var half=74-Math.abs(y-288);var x=464+G()*half*0.22;if(Math.abs(x-464)>half-2)continue;var e2=document.createElementNS(NS,"rect");e2.setAttribute("x",(x-0.8).toFixed(1));e2.setAttribute("y",y.toFixed(1));e2.setAttribute("width","1.6");e2.setAttribute("height","1.6");e2.setAttribute("fill",cols[Math.floor(R()*4)]);d.appendChild(e2);}
})();
</script>
</body></html>
